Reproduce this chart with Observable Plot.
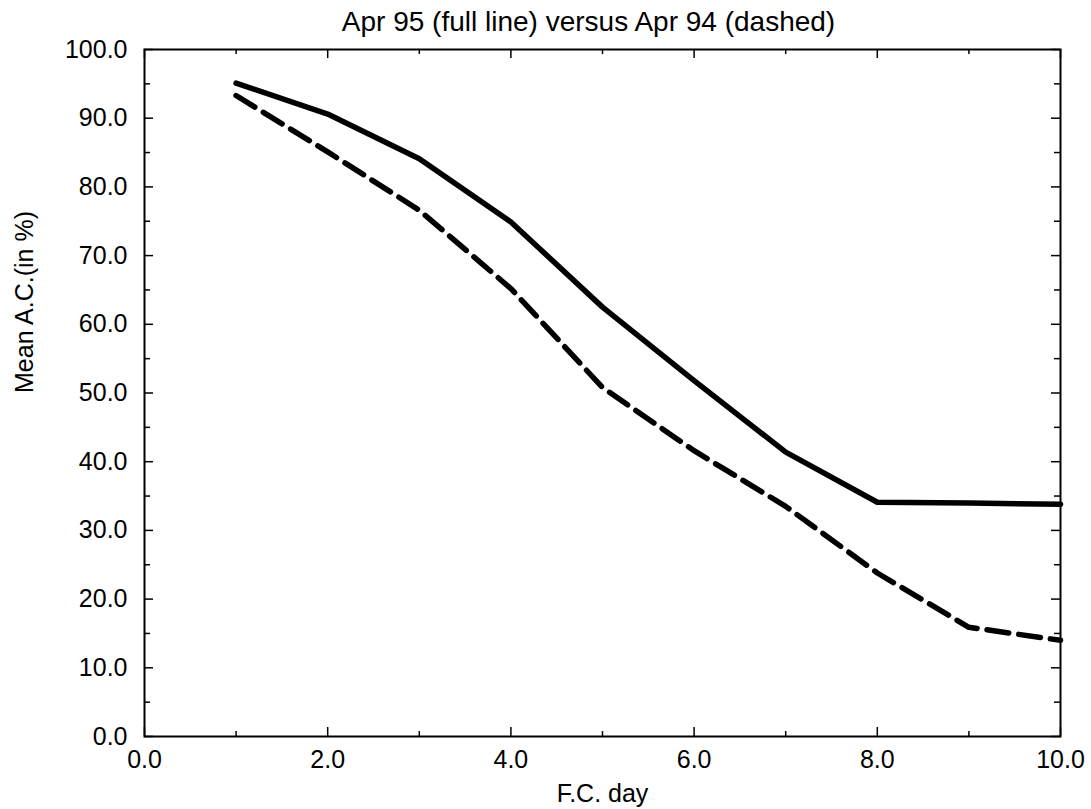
<!DOCTYPE html>
<html>
<head>
<meta charset="utf-8">
<script src="https://cdn.jsdelivr.net/npm/d3@7"></script>
<script src="https://cdn.jsdelivr.net/npm/@observablehq/plot@0.6"></script>
<style>
  html, body { margin: 0; padding: 0; background: #fff; }
  #chart svg { display: block; }
</style>
</head>
<body>
<div id="chart"></div>
<script>
// Forecast day
const days = [1, 2, 3, 4, 5, 6, 7, 8, 9, 10];
// Apr 95 (full line)
const apr95 = [95.1, 90.6, 84.1, 74.9, 62.5, 51.8, 41.4, 34.1, 34.0, 33.8];
// Apr 94 (dashed)
const apr94 = [93.3, 85.1, 76.6, 65.2, 50.8, 41.6, 33.5, 23.8, 15.9, 14.0];

const xMajor = [0, 2, 4, 6, 8, 10];
const xMinor = [1, 3, 5, 7, 9];
const yMajor = [0, 10, 20, 30, 40, 50, 60, 70, 80, 90, 100];
const yMinor = [5, 15, 25, 35, 45, 55, 65, 75, 85, 95];

const title = "Apr 95 (full line) versus Apr 94 (dashed)";
const xLabel = "F.C. day";
const yLabel = "Mean A.C.(in %)";

const rows95 = days.map((d, i) => ({day: d, value: apr95[i]}));
const rows94 = days.map((d, i) => ({day: d, value: apr94[i]}));

const W = 1091, H = 809;
const mTop = 49, mBottom = 73, mLeft = 144, mRight = 31;
const plotH = H - mTop - mBottom;
const plotW = W - mLeft - mRight;
const fmt = d3.format(".1f");

const chart = Plot.plot({
  width: W,
  height: H,
  marginTop: mTop,
  marginBottom: mBottom,
  marginLeft: mLeft,
  marginRight: mRight,
  style: {fontFamily: "'Liberation Sans', Arial, sans-serif", fontSize: "25px", color: "#000", background: "#fff"},
  x: {domain: [0, 10]},
  y: {domain: [0, 100]},
  marks: [
    Plot.axisX(xMajor, {tickSize: 0, tickPadding: 14, tickFormat: fmt, label: null, fontSize: 25}),
    Plot.axisY(yMajor, {tickSize: 0, tickPadding: 17, tickFormat: fmt, label: null, fontSize: 25}),
    // inward ticks: bottom & top
    Plot.ruleX(xMajor, {x: d => d, insetTop: plotH - 9, stroke: "#000", strokeWidth: 1.5}),
    Plot.ruleX(xMinor, {x: d => d, insetTop: plotH - 5, stroke: "#000", strokeWidth: 1.5}),
    Plot.ruleX(xMajor, {x: d => d, insetBottom: plotH - 9, stroke: "#000", strokeWidth: 1.5}),
    Plot.ruleX(xMinor, {x: d => d, insetBottom: plotH - 5, stroke: "#000", strokeWidth: 1.5}),
    // inward ticks: left & right
    Plot.ruleY(yMajor, {y: d => d, insetRight: plotW - 9, stroke: "#000", strokeWidth: 1.5}),
    Plot.ruleY(yMinor, {y: d => d, insetRight: plotW - 6, stroke: "#000", strokeWidth: 1.5}),
    Plot.ruleY(yMajor, {y: d => d, insetLeft: plotW - 9, stroke: "#000", strokeWidth: 1.5}),
    Plot.ruleY(yMinor, {y: d => d, insetLeft: plotW - 6, stroke: "#000", strokeWidth: 1.5}),
    Plot.frame({stroke: "#000", strokeWidth: 2}),
    Plot.line(rows94, {x: "day", y: "value", stroke: "#000", strokeWidth: 5.5, strokeDasharray: "22,10", strokeLinejoin: "round"}),
    Plot.line(rows95, {x: "day", y: "value", stroke: "#000", strokeWidth: 5.5, strokeLinejoin: "round", strokeLinecap: "round"}),
    Plot.text([title], {text: d => d, frameAnchor: "top", lineAnchor: "middle", dy: -27, dx: -14, fontSize: 28, fill: "#000"}),
    Plot.text([xLabel], {text: d => d, frameAnchor: "bottom", lineAnchor: "middle", dy: 57, fontSize: 25, fill: "#000"}),
    Plot.text([yLabel], {text: d => d, frameAnchor: "left", dx: -120, rotate: -90, fontSize: 25, fill: "#000"})
  ]
});
document.getElementById("chart").appendChild(chart);
</script>
</body>
</html>
